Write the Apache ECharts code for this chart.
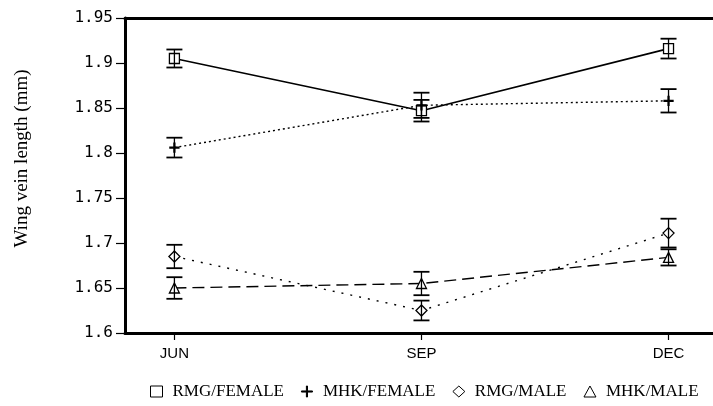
<!DOCTYPE html>
<html>
<head>
<meta charset="utf-8">
<script src="https://cdn.jsdelivr.net/npm/echarts@6/dist/echarts.min.js"></script>
<style>
  html, body { margin: 0; padding: 0; background: #fff; }
  #chart { width: 713px; height: 406px; }
</style>
</head>
<body>
<div id="chart"></div>
<script>
// months on the x axis
var months = ['JUN', 'SEP', 'DEC'];
var yTicks = [1.6, 1.65, 1.7, 1.75, 1.8, 1.85, 1.9, 1.95];

// mean wing vein length (mm) and error half-widths
var rmgFemale = [1.905, 1.847, 1.916];
var rmgFemaleErr = [0.010, 0.012, 0.011];
var mhkFemale = [1.806, 1.853, 1.858];
var mhkFemaleErr = [0.011, 0.014, 0.013];
var rmgMale = [1.685, 1.625, 1.711];
var rmgMaleErr = [0.013, 0.011, 0.016];
var mhkMale = [1.650, 1.655, 1.684];
var mhkMaleErr = [0.012, 0.013, 0.009];

var plusPath = 'path://M4.5,0h1v4.5h4.5v1h-4.5v4.5h-1v-4.5h-4.5v-1h4.5z';

function pts(vals) {
  return vals.map(function (v, i) { return [i, v]; });
}
function bars(vals, errs) {
  return vals.map(function (v, i) { return [i, v - errs[i], v + errs[i]]; });
}

function errorBars(params, api) {
  var lo = api.coord([api.value(0), api.value(1)]);
  var hi = api.coord([api.value(0), api.value(2)]);
  var w = 8;
  var st = { stroke: '#000', lineWidth: 1.8 };
  return {
    type: 'group',
    children: [
      { type: 'line', shape: { x1: lo[0], y1: lo[1], x2: hi[0], y2: hi[1] }, style: { stroke: '#000', lineWidth: 1.3 } },
      { type: 'line', shape: { x1: lo[0] - w, y1: lo[1], x2: lo[0] + w, y2: lo[1] }, style: st },
      { type: 'line', shape: { x1: hi[0] - w, y1: hi[1], x2: hi[0] + w, y2: hi[1] }, style: st }
    ]
  };
}

function lineSeries(name, vals, symbol, size, type, width, fill) {
  return {
    name: name,
    type: 'line',
    data: pts(vals),
    symbol: symbol,
    symbolSize: size,
    z: 3,
    lineStyle: { color: '#000', width: width, type: type },
    itemStyle: { color: fill, borderColor: '#000', borderWidth: 1.3 }
  };
}

function errSeries(vals, errs) {
  return {
    type: 'custom',
    renderItem: errorBars,
    data: bars(vals, errs),
    z: 4,
    silent: true
  };
}

var chart = echarts.init(document.getElementById('chart'));
chart.setOption({
  animation: false,
  backgroundColor: '#fff',
  grid: { left: 125, right: 0, top: 18, bottom: 73 },
  xAxis: [{
    type: 'value',
    min: -0.2,
    max: 2.18,
    axisLine: { onZero: false, lineStyle: { color: '#000', width: 3 } },
    axisTick: { show: true, customValues: [0, 1, 2], length: 7, lineStyle: { color: '#000', width: 1.2 } },
    axisLabel: {
      customValues: [0, 1, 2],
      formatter: function (v) { return months[Math.round(v)]; },
      color: '#000',
      fontFamily: 'Liberation Sans',
      fontSize: 15,
      margin: 13
    },
    splitLine: { show: false }
  }, {
    type: 'value',
    position: 'top',
    min: -0.2,
    max: 2.18,
    axisLine: { show: true, onZero: false, lineStyle: { color: '#000', width: 3 } },
    axisTick: { show: false },
    axisLabel: { show: false },
    splitLine: { show: false }
  }],
  yAxis: {
    type: 'value',
    min: yTicks[0],
    max: yTicks[yTicks.length - 1],
    interval: 0.05,
    name: 'Wing vein length (mm)',
    nameLocation: 'middle',
    nameGap: 93,
    nameTextStyle: { color: '#000', fontFamily: 'Liberation Serif', fontSize: 19, padding: [0, 0, 0, 34] },
    axisLine: { show: true, onZero: false, lineStyle: { color: '#000', width: 3 } },
    axisTick: { show: true, length: 9, lineStyle: { color: '#000', width: 1.2 } },
    axisLabel: {
      color: '#000',
      fontFamily: 'DejaVu Sans Mono',
      fontSize: 16,
      margin: 12,
      formatter: function (v) { return String(+v.toFixed(2)); }
    },
    splitLine: { show: false }
  },
  legend: {
    bottom: 1,
    left: 145,
    itemWidth: 12,
    itemHeight: 11,
    itemGap: 17,
    itemStyle: { borderWidth: 1 },
    textStyle: { color: '#000', fontFamily: 'Liberation Serif', fontSize: 17, padding: [0, 0, 0, 5] },
    data: [
      { name: 'RMG/FEMALE', icon: 'rect' },
      { name: 'MHK/FEMALE', icon: plusPath },
      { name: 'RMG/MALE', icon: 'diamond' },
      { name: 'MHK/MALE', icon: 'triangle' }
    ]
  },
  series: [
    lineSeries('RMG/FEMALE', rmgFemale, 'rect', 10, 'solid', 1.6, '#fff'),
    lineSeries('MHK/FEMALE', mhkFemale, plusPath, 9, [2, 3], 1.4, '#000'),
    lineSeries('RMG/MALE', rmgMale, 'diamond', 11, [2, 7], 1.4, '#fff'),
    lineSeries('MHK/MALE', mhkMale, 'triangle', 10, [12, 6], 1.4, '#fff'),
    errSeries(rmgFemale, rmgFemaleErr),
    errSeries(mhkFemale, mhkFemaleErr),
    errSeries(rmgMale, rmgMaleErr),
    errSeries(mhkMale, mhkMaleErr)
  ]
});
</script>
</body>
</html>
